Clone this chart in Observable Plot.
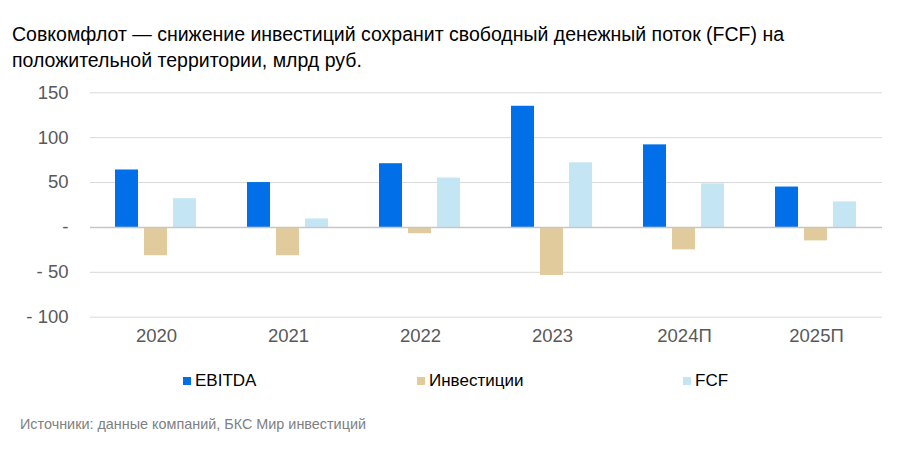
<!DOCTYPE html>
<html><head><meta charset="utf-8">
<script src="https://cdn.jsdelivr.net/npm/d3@7"></script>
<script src="https://cdn.jsdelivr.net/npm/@observablehq/plot@0.6"></script>
<style>
body{margin:0;background:#fff;font-family:"Liberation Sans",Arial,sans-serif;}
#wrap{position:relative;width:908px;height:451px;overflow:hidden;background:#fff;}
#title{position:absolute;left:12px;top:21px;font-size:19.5px;line-height:26px;color:#000;white-space:nowrap;}
#chart{position:absolute;left:0;top:80px;}
#legend{position:absolute;top:371px;left:0;width:908px;height:20px;font-size:17px;color:#000;}
.item{position:absolute;top:0;display:flex;align-items:center;height:20px;}
.sw{width:8px;height:8px;margin-right:4px;}
#source{position:absolute;left:20px;top:416px;font-size:14.4px;color:#808080;white-space:nowrap;}
</style></head>
<body>
<div id="wrap">
<div id="title">Совкомфлот — снижение инвестиций сохранит свободный денежный поток (FCF) на<br>положительной территории, млрд руб.</div>
<div id="chart"></div>
<div id="legend"></div>
<div id="source">Источники: данные компаний, БКС Мир инвестиций</div>
</div>
<script>
const years = ["2020", "2021", "2022", "2023", "2024П", "2025П"];
const seriesNames = ["EBITDA", "Инвестиции", "FCF"];
const ebitda = [64, 50, 71, 135, 92, 45];
const invest = [-31.5, -31.5, -7, -53.5, -25, -15];
const fcf = [32, 9.5, 55, 72, 48.5, 28.5];
const yTicks = [-100, -50, 0, 50, 100, 150];
const colors = ["#006FE8", "#E1CB9C", "#C4E5F3"];

const data = years.flatMap((y, i) => [
  {year: y, series: seriesNames[0], value: ebitda[i]},
  {year: y, series: seriesNames[1], value: invest[i]},
  {year: y, series: seriesNames[2], value: fcf[i]}
]);

const chart = Plot.plot({
  width: 908, height: 280,
  marginTop: 12.3, marginBottom: 43.3, marginLeft: 90, marginRight: 26,
  style: {fontFamily: "Liberation Sans, Arial, sans-serif", fontSize: "18.5px", color: "#595959", background: "transparent"},
  fx: {domain: years, padding: 0, label: null, tickSize: 0, tickPadding: 12, axis: "bottom"},
  x: {domain: seriesNames, axis: null, paddingInner: 0.2, paddingOuter: 0.84},
  y: {domain: [-100, 150], ticks: yTicks, tickSize: 0, tickPadding: 22, label: null,
      tickFormat: d => d === 0 ? "-" : d < 0 ? "- " + (-d) : String(d)},
  color: {domain: seriesNames, range: colors},
  marks: [
    Plot.ruleY(yTicks.filter(t => t !== 0), {stroke: "#d9d9d9"}),
    Plot.barY(data, {fx: "year", x: "series", y: "value", fill: "series"}),
    Plot.ruleY([0], {stroke: "#c6c6c6", strokeWidth: 1.5})
  ]
});
document.getElementById("chart").appendChild(chart);

const legendX = [183, 417, 683];
const legend = document.getElementById("legend");
seriesNames.forEach((s, i) => {
  const it = document.createElement("div");
  it.className = "item";
  it.style.left = legendX[i] + "px";
  const sw = document.createElement("span");
  sw.className = "sw";
  sw.style.background = colors[i];
  const t = document.createElement("span");
  t.textContent = s;
  it.appendChild(sw); it.appendChild(t);
  legend.appendChild(it);
});
</script>
</body></html>
